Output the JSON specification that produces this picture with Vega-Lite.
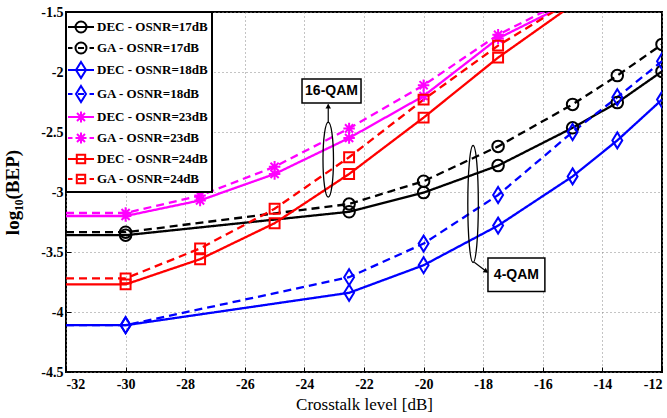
{
"$schema": "https://vega.github.io/schema/vega-lite/v6.json",
"width": 596, "height": 360,
"autosize": {"type": "none"},
"padding": {"left": 66, "top": 12, "right": 5, "bottom": 46},
"background": "white",
"config": {
 "view": {"stroke": "black", "strokeWidth": 2},
 "axis": {"labelFont": "Liberation Serif", "labelFontWeight": "bold", "labelFontSize": 14, "labelColor": "black", "titleFont": "Liberation Serif", "titleColor": "black", "grid": true, "gridDash": [1, 3], "gridColor": "#888", "gridWidth": 1, "domain": false, "tickColor": "black", "tickSize": -5, "ticks": true},
 "legend": {"orient": "top-left", "offset": 0, "padding": 4, "strokeColor": "black", "strokeWidth": 2, "fillColor": "white", "labelFont": "Liberation Serif", "labelFontWeight": "bold", "labelFontSize": 13, "labelColor": "black", "symbolSize": 400, "rowPadding": 0, "labelOffset": 5}
},
"resolve": {"scale": {"color": "independent", "shape": "independent"}},
"datasets": {
 "curves": [
  {"x": -32, "y": -3.36, "series": "DEC - OSNR=17dB"},
  {"x": -30, "y": -3.36, "series": "DEC - OSNR=17dB"},
  {"x": -22.5, "y": -3.165, "series": "DEC - OSNR=17dB"},
  {"x": -20, "y": -3.005, "series": "DEC - OSNR=17dB"},
  {"x": -17.5, "y": -2.78, "series": "DEC - OSNR=17dB"},
  {"x": -15, "y": -2.465, "series": "DEC - OSNR=17dB"},
  {"x": -13.5, "y": -2.255, "series": "DEC - OSNR=17dB"},
  {"x": -12, "y": -1.995, "series": "DEC - OSNR=17dB"},
  {"x": -32, "y": -3.335, "series": "GA - OSNR=17dB"},
  {"x": -30, "y": -3.335, "series": "GA - OSNR=17dB"},
  {"x": -22.5, "y": -3.1, "series": "GA - OSNR=17dB"},
  {"x": -20, "y": -2.91, "series": "GA - OSNR=17dB"},
  {"x": -17.5, "y": -2.62, "series": "GA - OSNR=17dB"},
  {"x": -15, "y": -2.27, "series": "GA - OSNR=17dB"},
  {"x": -13.5, "y": -2.03, "series": "GA - OSNR=17dB"},
  {"x": -12, "y": -1.77, "series": "GA - OSNR=17dB"},
  {"x": -32, "y": -4.11, "series": "DEC - OSNR=18dB"},
  {"x": -30, "y": -4.11, "series": "DEC - OSNR=18dB"},
  {"x": -22.5, "y": -3.84, "series": "DEC - OSNR=18dB"},
  {"x": -20, "y": -3.61, "series": "DEC - OSNR=18dB"},
  {"x": -17.5, "y": -3.28, "series": "DEC - OSNR=18dB"},
  {"x": -15, "y": -2.87, "series": "DEC - OSNR=18dB"},
  {"x": -13.5, "y": -2.57, "series": "DEC - OSNR=18dB"},
  {"x": -12, "y": -2.23, "series": "DEC - OSNR=18dB"},
  {"x": -32, "y": -4.11, "series": "GA - OSNR=18dB"},
  {"x": -30, "y": -4.11, "series": "GA - OSNR=18dB"},
  {"x": -22.5, "y": -3.71, "series": "GA - OSNR=18dB"},
  {"x": -20, "y": -3.43, "series": "GA - OSNR=18dB"},
  {"x": -17.5, "y": -3.025, "series": "GA - OSNR=18dB"},
  {"x": -15, "y": -2.5, "series": "GA - OSNR=18dB"},
  {"x": -13.5, "y": -2.21, "series": "GA - OSNR=18dB"},
  {"x": -12, "y": -1.91, "series": "GA - OSNR=18dB"},
  {"x": -32, "y": -3.2, "series": "DEC - OSNR=23dB"},
  {"x": -30, "y": -3.2, "series": "DEC - OSNR=23dB"},
  {"x": -27.5, "y": -3.07, "series": "DEC - OSNR=23dB"},
  {"x": -25, "y": -2.85, "series": "DEC - OSNR=23dB"},
  {"x": -22.5, "y": -2.55, "series": "DEC - OSNR=23dB"},
  {"x": -20, "y": -2.2, "series": "DEC - OSNR=23dB"},
  {"x": -17.5, "y": -1.72, "series": "DEC - OSNR=23dB"},
  {"x": -15, "y": -1.41, "series": "DEC - OSNR=23dB"},
  {"x": -32, "y": -3.175, "series": "GA - OSNR=23dB"},
  {"x": -30, "y": -3.175, "series": "GA - OSNR=23dB"},
  {"x": -27.5, "y": -3.03, "series": "GA - OSNR=23dB"},
  {"x": -25, "y": -2.79, "series": "GA - OSNR=23dB"},
  {"x": -22.5, "y": -2.47, "series": "GA - OSNR=23dB"},
  {"x": -20, "y": -2.11, "series": "GA - OSNR=23dB"},
  {"x": -17.5, "y": -1.69, "series": "GA - OSNR=23dB"},
  {"x": -15, "y": -1.375, "series": "GA - OSNR=23dB"},
  {"x": -32, "y": -3.77, "series": "DEC - OSNR=24dB"},
  {"x": -30, "y": -3.77, "series": "DEC - OSNR=24dB"},
  {"x": -27.5, "y": -3.56, "series": "DEC - OSNR=24dB"},
  {"x": -25, "y": -3.26, "series": "DEC - OSNR=24dB"},
  {"x": -22.5, "y": -2.85, "series": "DEC - OSNR=24dB"},
  {"x": -20, "y": -2.38, "series": "DEC - OSNR=24dB"},
  {"x": -17.5, "y": -1.88, "series": "DEC - OSNR=24dB"},
  {"x": -15, "y": -1.44, "series": "DEC - OSNR=24dB"},
  {"x": -32, "y": -3.72, "series": "GA - OSNR=24dB"},
  {"x": -30, "y": -3.72, "series": "GA - OSNR=24dB"},
  {"x": -27.5, "y": -3.47, "series": "GA - OSNR=24dB"},
  {"x": -25, "y": -3.14, "series": "GA - OSNR=24dB"},
  {"x": -22.5, "y": -2.71, "series": "GA - OSNR=24dB"},
  {"x": -20, "y": -2.23, "series": "GA - OSNR=24dB"},
  {"x": -17.5, "y": -1.78, "series": "GA - OSNR=24dB"},
  {"x": -15, "y": -1.4, "series": "GA - OSNR=24dB"}
 ],
 "boxes": [
  {"x": -24.08, "x2": -22.1, "y": -2.058, "y2": -2.258, "cx": -23.09, "cy": -2.158, "label": "16-QAM"},
  {"x": -17.84, "x2": -15.93, "y": -3.55, "y2": -3.83, "cx": -16.885, "cy": -3.69, "label": "4-QAM"}
 ],
 "ell16": [{"x": -23.2, "y": -2.73}],
 "ell4": [{"x": -18.34, "y": -3.1}],
 "arrows": [
  {"x": -23.2, "y": -2.425, "x2": -23.2, "y2": -2.27},
  {"x": -18.3, "y": -3.585, "x2": -17.87, "y2": -3.667}
 ],
 "heads": [
  {"x": -23.2, "y": -2.285, "angle": 0},
  {"x": -17.9, "y": -3.662, "angle": 125}
 ]
},
"encoding": {
 "x": {"field": "x", "type": "quantitative", "scale": {"domain": [-32, -12], "nice": false, "zero": false},
  "axis": {"values": [-32, -30, -28, -26, -24, -22, -20, -18, -16, -14, -12], "title": "Crosstalk level [dB]", "titleFontSize": 17, "titleFontWeight": "normal", "labelPadding": 10, "titlePadding": 5, "labelExpr": "replace(format(datum.value,''),'\u2212','-')"}},
 "y": {"field": "y", "type": "quantitative", "scale": {"domain": [-4.5, -1.5], "nice": false, "zero": false},
  "axis": {"values": [-4.5, -4, -3.5, -3, -2.5, -2, -1.5], "title": "log₁₀(BEP)", "titleFontSize": 19, "titleFontWeight": "bold", "labelPadding": 8, "titlePadding": 18, "labelExpr": "replace(format(datum.value,''),'\u2212','-')"}}
},
"layer": [
 {"data": {"name": "curves"},
  "mark": {"type": "line", "strokeWidth": 2.3, "clip": true},
  "encoding": {
   "color": {"field": "series", "type": "nominal", "legend": null,
    "scale": {"domain": ["DEC - OSNR=17dB", "GA - OSNR=17dB", "DEC - OSNR=18dB", "GA - OSNR=18dB", "DEC - OSNR=23dB", "GA - OSNR=23dB", "DEC - OSNR=24dB", "GA - OSNR=24dB"], "range": ["black", "black", "#0000ff", "#0000ff", "#ff00ff", "#ff00ff", "#ff0000", "#ff0000"]}},
   "strokeDash": {"field": "series", "type": "nominal", "legend": null,
    "scale": {"domain": ["DEC - OSNR=17dB", "GA - OSNR=17dB", "DEC - OSNR=18dB", "GA - OSNR=18dB", "DEC - OSNR=23dB", "GA - OSNR=23dB", "DEC - OSNR=24dB", "GA - OSNR=24dB"], "range": [[1, 0], [8, 5], [1, 0], [8, 5], [1, 0], [8, 5], [1, 0], [8, 5]]}}
  }},
 {"data": {"name": "curves"},
  "transform": [{"filter": "datum.x > -32 && datum.y <= -1.5"}],
  "mark": {"type": "point", "filled": false, "strokeWidth": 2, "size": 256, "opacity": 1, "clip": true},
  "encoding": {
   "color": {"field": "series", "type": "nominal", "legend": null,
    "scale": {"domain": ["DEC - OSNR=17dB", "GA - OSNR=17dB", "DEC - OSNR=18dB", "GA - OSNR=18dB", "DEC - OSNR=23dB", "GA - OSNR=23dB", "DEC - OSNR=24dB", "GA - OSNR=24dB"], "range": ["black", "black", "#0000ff", "#0000ff", "#ff00ff", "#ff00ff", "#ff0000", "#ff0000"]}},
   "shape": {"field": "series", "type": "nominal", "legend": null,
    "scale": {"domain": ["DEC - OSNR=17dB", "GA - OSNR=17dB", "DEC - OSNR=18dB", "GA - OSNR=18dB", "DEC - OSNR=23dB", "GA - OSNR=23dB", "DEC - OSNR=24dB", "GA - OSNR=24dB"],
     "range": ["M0.72,0A0.72,0.72 0 1,1 -0.72,0A0.72,0.72 0 1,1 0.72,0", "M0.72,0A0.72,0.72 0 1,1 -0.72,0A0.72,0.72 0 1,1 0.72,0", "M0,-1L0.62,0L0,1L-0.62,0Z", "M0,-1L0.62,0L0,1L-0.62,0Z", "M0,-0.72V0.72M-0.72,0H0.72M-0.51,-0.51L0.51,0.51M-0.51,0.51L0.51,-0.51", "M0,-0.72V0.72M-0.72,0H0.72M-0.51,-0.51L0.51,0.51M-0.51,0.51L0.51,-0.51", "M-0.62,-0.62H0.62V0.62H-0.62Z", "M-0.62,-0.62H0.62V0.62H-0.62Z"]}}
  }},
 {"data": {"name": "curves"},
  "mark": {"type": "point", "filled": false, "strokeWidth": 2, "opacity": 0},
  "encoding": {
   "color": {"field": "series", "type": "nominal",
    "scale": {"domain": ["DEC - OSNR=17dB", "GA - OSNR=17dB", "DEC - OSNR=18dB", "GA - OSNR=18dB", "DEC - OSNR=23dB", "GA - OSNR=23dB", "DEC - OSNR=24dB", "GA - OSNR=24dB"], "range": ["black", "black", "#0000ff", "#0000ff", "#ff00ff", "#ff00ff", "#ff0000", "#ff0000"]},
    "legend": {"title": null, "symbolOpacity": 1, "symbolStrokeWidth": 2, "symbolFillColor": "transparent"}},
   "shape": {"field": "series", "type": "nominal",
    "scale": {"domain": ["DEC - OSNR=17dB", "GA - OSNR=17dB", "DEC - OSNR=18dB", "GA - OSNR=18dB", "DEC - OSNR=23dB", "GA - OSNR=23dB", "DEC - OSNR=24dB", "GA - OSNR=24dB"],
     "range": [
      "M-1.3,0H1.3M0.55,0A0.55,0.55 0 1,1 -0.55,0A0.55,0.55 0 1,1 0.55,0",
      "M-1.3,0H-0.85M-0.3,0H0.3M0.85,0H1.3M0.55,0A0.55,0.55 0 1,1 -0.55,0A0.55,0.55 0 1,1 0.55,0",
      "M-1.3,0H1.3M0,-0.8L0.5,0L0,0.8L-0.5,0Z",
      "M-1.3,0H-0.85M-0.3,0H0.3M0.85,0H1.3M0,-0.8L0.5,0L0,0.8L-0.5,0Z",
      "M-1.3,0H1.3M0,-0.55V0.55M-0.55,0H0.55M-0.4,-0.4L0.4,0.4M-0.4,0.4L0.4,-0.4",
      "M-1.3,0H-0.85M-0.3,0H0.3M0.85,0H1.3M0,-0.55V0.55M-0.55,0H0.55M-0.4,-0.4L0.4,0.4M-0.4,0.4L0.4,-0.4",
      "M-1.3,0H1.3M-0.42,-0.42H0.42V0.42H-0.42Z",
      "M-1.3,0H-0.85M-0.3,0H0.3M0.85,0H1.3M-0.42,-0.42H0.42V0.42H-0.42Z"]}}
  }},
 {"data": {"name": "ell16"},
  "mark": {"type": "point", "shape": "M0,-1A0.14,1 0 1,1 0,1A0.14,1 0 1,1 0,-1", "size": 5625, "filled": false, "color": "black", "strokeWidth": 1.3, "opacity": 1}},
 {"data": {"name": "ell4"},
  "mark": {"type": "point", "shape": "M0,-1A0.09,1 0 1,1 0,1A0.09,1 0 1,1 0,-1", "size": 13689, "filled": false, "color": "black", "strokeWidth": 1.3, "opacity": 1}},
 {"data": {"name": "arrows"},
  "mark": {"type": "rule", "color": "black", "strokeWidth": 1.2},
  "encoding": {"x2": {"field": "x2"}, "y2": {"field": "y2"}}},
 {"data": {"name": "heads"},
  "mark": {"type": "point", "shape": "triangle-up", "size": 30, "filled": true, "color": "black", "opacity": 1},
  "encoding": {"angle": {"field": "angle", "type": "quantitative", "scale": null}}},
 {"data": {"name": "boxes"},
  "mark": {"type": "rect", "fill": "white", "stroke": "black", "strokeWidth": 1.5},
  "encoding": {"x2": {"field": "x2"}, "y2": {"field": "y2"}}},
 {"data": {"name": "boxes"},
  "mark": {"type": "text", "font": "Liberation Sans", "fontWeight": "bold", "fontSize": 14, "color": "black", "align": "center", "baseline": "middle"},
  "encoding": {"x": {"field": "cx", "type": "quantitative"}, "y": {"field": "cy", "type": "quantitative"}, "text": {"field": "label"}}}
]
}
